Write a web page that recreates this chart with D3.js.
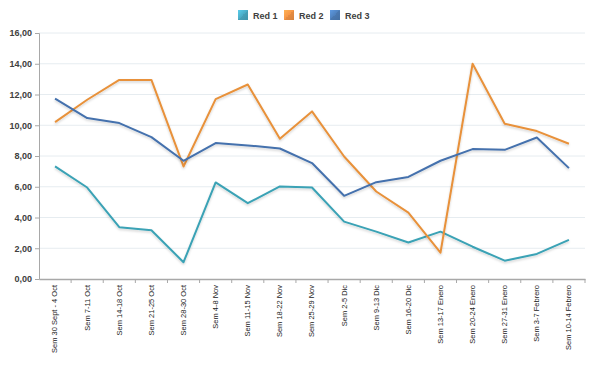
<!DOCTYPE html>
<html><head><meta charset="utf-8">
<script src="https://cdn.jsdelivr.net/npm/d3@7"></script>
<style>body{margin:0;background:#fff;font-family:"Liberation Sans",Arial,sans-serif;}</style>
</head><body><svg id="c" width="600" height="365"></svg>
<script>
const categories = ["Sem 30 Sept - 4 Oct","Sem 7-11 Oct","Sem 14-18 Oct","Sem 21-25 Oct","Sem 28-30 Oct","Sem 4-8 Nov","Sem 11-15 Nov","Sem 18-22 Nov","Sem 25-29 Nov","Sem 2-5 Dic","Sem 9-13 Dic","Sem 16-20 Dic","Sem 13-17 Enero","Sem 20-24 Enero","Sem 27-31 Enero","Sem 3-7 Febrero","Sem 10-14 Febrero"];
const red1 = [7.32,5.95,3.37,3.17,1.09,6.28,4.93,6.02,5.95,3.73,3.08,2.37,3.08,2.10,1.19,1.63,2.54];
const red2 = [10.2,11.66,12.95,12.95,7.32,11.7,12.65,9.12,10.9,7.97,5.69,4.32,1.71,14.0,10.1,9.62,8.8];
const red3 = [11.73,10.47,10.14,9.23,7.69,8.84,8.69,8.49,7.54,5.41,6.3,6.64,7.69,8.45,8.4,9.2,7.21];
const seriesNames = ["Red 1","Red 2","Red 3"];
const yTicks = [0,2,4,6,8,10,12,14,16];

const lineColors = ["#3aa2b5","#e8913a","#4471ad"];
const fillColors = ["#4bacc6","#f79646","#4f81bd"];
const svg = d3.select("#c");
const mLeft = 39, mRight = 585, mTop = 33, mBottom = 279;
const x = d3.scaleBand().domain(categories).range([mLeft, mRight]);
const y = d3.scaleLinear().domain([0,16]).range([mBottom, mTop]);
const fmt = d3.formatLocale({decimal:",",thousands:".",grouping:[3],currency:["","€"]}).format(".2f");

const defs = svg.append("defs");
const f = defs.append("filter").attr("id","sh").attr("x","-5%").attr("y","-5%").attr("width","110%").attr("height","120%");
f.append("feDropShadow").attr("dx",0).attr("dy",1.5).attr("stdDeviation",1).attr("flood-color","#000").attr("flood-opacity",0.18);
fillColors.forEach((c,i)=>{
  const g = defs.append("linearGradient").attr("id","g"+i).attr("x1","0").attr("y1","0").attr("x2","1").attr("y2","1");
  g.append("stop").attr("offset","0").attr("stop-color",d3.color(c).brighter(0.5));
  g.append("stop").attr("offset","0.5").attr("stop-color",c);
  g.append("stop").attr("offset","0.5").attr("stop-color",d3.color(c).darker(0.2));
  g.append("stop").attr("offset","1").attr("stop-color",d3.color(c).darker(0.4));
});

// gridlines
svg.append("g").selectAll("line").data(yTicks.filter(d=>d>0)).join("line")
  .attr("x1",mLeft).attr("x2",mRight).attr("y1",d=>y(d)).attr("y2",d=>y(d))
  .attr("stroke","#e6ecf0").attr("stroke-width",1);

// y axis
const ya = svg.append("g").attr("transform",`translate(${mLeft},0)`)
  .call(d3.axisLeft(y).tickValues(yTicks).tickFormat(fmt).tickSize(4).tickPadding(3));
ya.select(".domain").attr("stroke","#a8a8a8");
ya.selectAll(".tick line").attr("stroke","#a8a8a8");
ya.selectAll("text").attr("font-size",9).attr("font-weight","bold").attr("fill","#404040").attr("font-family","Liberation Sans, Arial, sans-serif");

// x axis
const xa = svg.append("g").attr("transform",`translate(0,${mBottom})`)
  .call(d3.axisBottom(x).tickSize(0));
xa.select(".domain").attr("stroke","#a8a8a8").attr("stroke-width",1.5);
xa.selectAll(".tick text").attr("font-size",7.5).attr("fill","#222")
  .attr("font-family","Liberation Sans, Arial, sans-serif")
  .attr("text-anchor","end").attr("transform","translate(0,6) rotate(-90)")
  .attr("dy","0.32em").attr("x",0).attr("y",0);
// band-boundary ticks
svg.append("g").selectAll("line").data(categories).join("line")
  .attr("x1",(d,i)=> x(d) + x.step()).attr("x2",(d,i)=> x(d) + x.step())
  .attr("y1",mBottom).attr("y2",mBottom+4).attr("stroke","#a8a8a8");

// lines
const data = [red1, red2, red3];
const line = d3.line().x((d,i)=>x(categories[i]) + x.bandwidth()/2).y(d=>y(d));
svg.append("g").selectAll("path").data(data).join("path")
  .attr("d",line).attr("fill","none")
  .attr("stroke",(d,i)=>lineColors[i]).attr("stroke-width",2)
  .attr("stroke-linejoin","round").attr("filter","url(#sh)");

// legend
const lx = [238, 284, 330];
const lg = svg.append("g");
seriesNames.forEach((n,i)=>{
  lg.append("rect").attr("x",lx[i]).attr("y",10).attr("width",10).attr("height",10).attr("fill",`url(#g${i})`);
  lg.append("text").attr("x",lx[i]+15).attr("y",18.5).text(n)
    .attr("font-size",9).attr("font-weight","bold").attr("fill","#404040");
});
</script></body></html>
